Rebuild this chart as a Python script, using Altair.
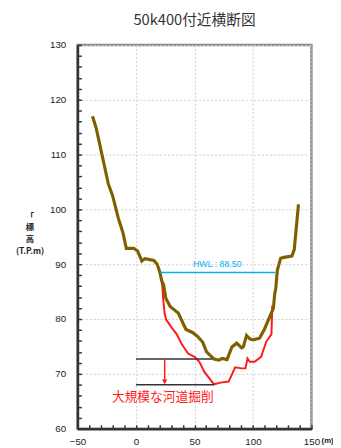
import altair as alt
import pandas as pd

# ---- data ----
# current riverbed (brown)
brown_x = [-37.2, -34.0, -29.7, -23.6, -20.0, -15.25, -11.1, -8.3, -1.9, 1.4, 5.0, 7.5,
           15.3, 18.1, 20.3, 22.0, 23.6, 25.5, 29.2, 32.0, 36.1, 42.75, 48.3, 52.8, 57.0,
           60.3, 66.7, 70.8, 73.6, 77.8, 82.0, 86.1, 90.3, 91.7, 94.5, 97.25, 100.0, 105.6,
           109.7, 113.9, 117.5, 118.5, 119.5, 120.8, 123.7, 126.4, 133.3, 135.3, 138.9]
brown_y = [117.0, 114.8, 110.6, 104.6, 102.5, 98.5, 95.7, 92.9, 92.9, 92.4, 90.6, 91.0,
           90.7, 90.0, 88.6, 87.0, 86.2, 83.8, 82.3, 81.8, 81.1, 78.1, 77.55, 76.8, 75.8,
           74.0, 72.7, 72.5, 72.8, 72.6, 74.9, 75.6, 74.75, 74.9, 77.0, 76.4, 76.2, 76.5,
           78.1, 80.2, 82.0, 84.5, 85.6, 88.9, 91.1, 91.25, 91.5, 92.7, 100.9]

# excavated riverbed (red)
red_x = [20.8, 22.5, 23.3, 24.5, 25.8, 30.6, 34.75, 38.9, 44.5, 50.0, 54.2, 58.3, 66.7,
         72.25, 79.2, 84.75, 90.3, 93.6, 95.3, 97.25, 101.4, 107.0, 111.2, 115.8, 116.2, 116.5]
red_y = [88.3, 86.0, 83.5, 81.0, 79.9, 78.4, 77.25, 75.5, 73.7, 73.1, 72.2, 70.4, 68.1,
         68.4, 68.6, 71.2, 71.0, 71.0, 72.8, 72.2, 72.2, 73.1, 75.8, 77.25, 80.0, 82.5]

# high water level
hwl_x = [20.8, 118.9]
hwl_level = 88.5
hwl_label = "HWL : 88.50"
hwl_label_x = 69.5
hwl_label_y = 90.0

# bed levels before / after excavation
level_y = [72.7, 68.0]
level_x_start = [0.0, 0.0]
level_x_end = [65.3, 66.7]
arrow_x = 24.5
arrow_head_y = 68.55
note_text = "大規模な河道掘削"
note_x = 22.9
note_y = 65.8

title_text = "50k400付近横断図"
x_ticks = [-50, 0, 50, 100, 150]
y_ticks = [60, 70, 80, 90, 100, 110, 120, 130]
x_minor = [-50, -40, -30, -20, -10, 0, 10, 20, 30, 40, 50, 60, 70, 80, 90, 100,
           110, 120, 130, 140, 150]
y_minor = [60, 62, 64, 66, 68, 70, 72, 74, 76, 78, 80, 82, 84, 86, 88, 90, 92, 94, 96,
           98, 100, 102, 104, 106, 108, 110, 112, 114, 116, 118, 120, 122, 124, 126, 128, 130]

W, H = 239, 392
LABEL_FONT = "Liberation Sans"
JP_FONT = "Noto Sans CJK JP"

xs = alt.Scale(domain=[-50, 150], nice=False, zero=False)
ys = alt.Scale(domain=[60, 130], nice=False, zero=False)

x_main_axis = alt.Axis(values=x_ticks, orient="bottom", grid=True, gridDash=[2, 2],
                       gridColor="#cfcfcf", ticks=False, domainColor="#333333",
                       domainWidth=2.5, labelFont=LABEL_FONT, labelFontSize=10,
                       labelColor="#222222", labelPadding=8, labelFlush=False,
                       labelOverlap=False, title="(m)", titleFont=LABEL_FONT,
                       titleFontSize=8, titleFontWeight="bold", titleX=255, titleY=12,
                       titleAlign="center", titleBaseline="middle", titleColor="#222222",
                       format="d")
y_main_axis = alt.Axis(values=y_ticks, orient="left", grid=True, gridDash=[2, 2],
                       gridColor="#cfcfcf", ticks=False, domainColor="#333333",
                       domainWidth=2.5, labelFont=LABEL_FONT, labelFontSize=10,
                       labelColor="#222222", labelPadding=12, labelOverlap=False,
                       title=["「", "標", "高", "(T.P.m)"], titleAngle=0,
                       titleFont=JP_FONT, titleFontSize=8.5, titleFontWeight="bold",
                       titleLineHeight=12, titleX=-49, titleY=170, titleAlign="center",
                       titleBaseline="top", titleColor="#222222", format="d")
x_tick_axis = alt.Axis(values=x_minor, orient="top", offset=-H, grid=False, domain=False,
                       labels=False, ticks=True, tickSize=4, tickColor="#333333",
                       tickWidth=1.5, title=None)
y_tick_axis = alt.Axis(values=y_minor, orient="right", offset=-W, grid=False, domain=False,
                       labels=False, ticks=True, tickSize=4, tickColor="#333333",
                       tickWidth=1.5, title=None)


def X(field="x"):
    return alt.X(f"{field}:Q", scale=xs, axis=None)


def Y(field="y"):
    return alt.Y(f"{field}:Q", scale=ys, axis=None)


red_df = pd.DataFrame({"x": red_x, "y": red_y, "i": list(range(len(red_x)))})
brown_df = pd.DataFrame({"x": brown_x, "y": brown_y, "i": list(range(len(brown_x)))})

red = alt.Chart(red_df).mark_line(color="#ff1a1a", strokeWidth=2).encode(
    x=alt.X("x:Q", scale=xs, axis=x_tick_axis),
    y=alt.Y("y:Q", scale=ys, axis=y_tick_axis),
    order="i:Q",
)
brown = alt.Chart(brown_df).mark_line(color="#7f5f00", strokeWidth=3.2).encode(
    x=alt.X("x:Q", scale=xs, axis=x_main_axis),
    y=alt.Y("y:Q", scale=ys, axis=y_main_axis),
    order="i:Q",
)

hwl_df = pd.DataFrame({"x": [hwl_x[0]], "x2": [hwl_x[1]], "y": [hwl_level]})
hwl = alt.Chart(hwl_df).mark_rule(color="#00b0f0", strokeWidth=1.5).encode(
    x=X(), x2="x2:Q", y=Y())
hwl_txt_df = pd.DataFrame({"x": [hwl_label_x], "y": [hwl_label_y], "t": [hwl_label]})
hwl_txt = alt.Chart(hwl_txt_df).mark_text(color="#00b0f0", fontSize=9, font=LABEL_FONT,
                                          align="center", baseline="middle").encode(
    x=X(), y=Y(), text="t:N")

lev_df = pd.DataFrame({"x": level_x_start, "x2": level_x_end, "y": level_y})
levels = alt.Chart(lev_df).mark_rule(color="#333333", strokeWidth=1.5).encode(
    x=X(), x2="x2:Q", y=Y())

arr_df = pd.DataFrame({"x": [arrow_x], "y": [level_y[0]], "y2": [arrow_head_y]})
arrow = alt.Chart(arr_df).mark_rule(color="#ff1a1a", strokeWidth=1.5).encode(
    x=X(), y=Y(), y2="y2:Q")
head_df = pd.DataFrame({"x": [arrow_x], "y": [arrow_head_y]})
head = alt.Chart(head_df).mark_point(shape="triangle-down", filled=True, color="#ff1a1a",
                                     size=30, opacity=1).encode(x=X(), y=Y())

note_df = pd.DataFrame({"x": [note_x], "y": [note_y], "t": [note_text]})
note = alt.Chart(note_df).mark_text(color="#ff1a1a", fontSize=13, font=JP_FONT,
                                    align="center", baseline="middle").encode(
    x=X(), y=Y(), text="t:N")

chart = alt.layer(red, brown, hwl, hwl_txt, levels, arrow, head, note).resolve_axis(
    x="independent", y="independent"
).properties(
    width=W, height=H,
    autosize=alt.AutoSizeParams(type="none"),
    padding={"left": 71, "top": 33, "right": 22, "bottom": 15},
    title=alt.TitleParams(title_text, anchor="middle", frame="group", font=JP_FONT,
                          fontSize=15, fontWeight="normal", color="#333333", offset=12),
).configure_view(stroke="#8a8a8a", strokeWidth=2.5)

chart.save("out.html", embed_options={"renderer": "svg", "actions": False})
